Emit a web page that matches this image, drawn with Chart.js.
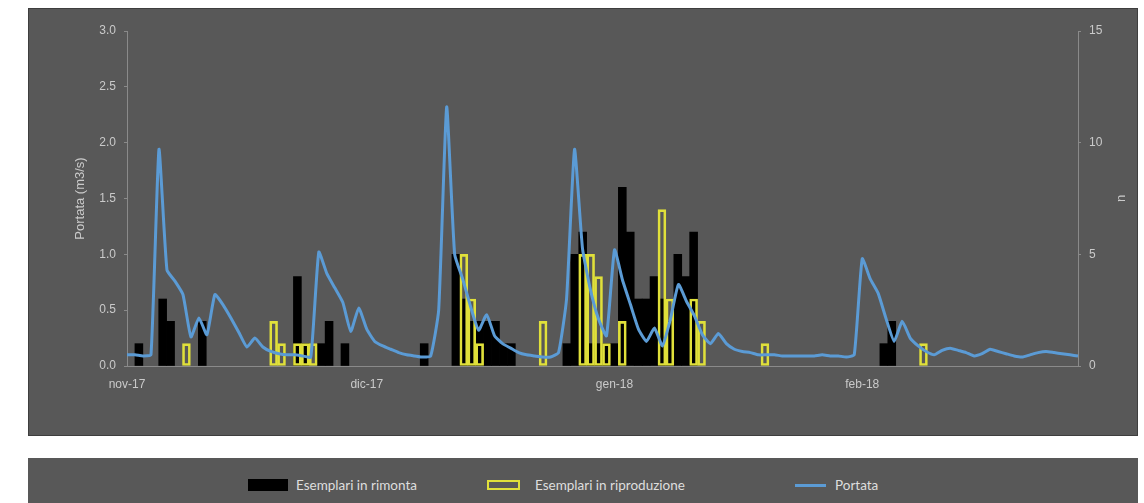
<!DOCTYPE html>
<html>
<head>
<meta charset="utf-8">
<script src="https://cdn.jsdelivr.net/npm/chart.js@4.4.1/dist/chart.umd.min.js"></script>
<style>
  html, body { margin: 0; padding: 0; background: #ffffff; width: 1144px; height: 503px; overflow: hidden; }
  #panel { position: absolute; left: 28px; top: 8px; width: 1110px; height: 428px; background: #585858; box-shadow: inset 0 0 0 1px #3e3e3e; }
  #panel canvas { position: absolute; left: 0; top: 0; }
  #legend { position: absolute; left: 28px; top: 458px; width: 1110px; height: 45px; background: #585858; }
  .key { position: absolute; box-sizing: border-box; }
  .lbl { position: absolute; top: 19px; font: 13.5px Lato, "Open Sans", sans-serif; line-height: 16px; color: #dedede; white-space: nowrap; }
</style>
</head>
<body>
<div id="panel"><canvas id="chart" width="1110" height="428"></canvas></div>
<div id="legend">
  <div class="key" style="left:220px;top:21px;width:40px;height:12px;background:#000;"></div>
  <div class="lbl" style="left:268px;">Esemplari in rimonta</div>
  <div class="key" style="left:459px;top:22px;width:33px;height:10px;border:2px solid #e0e03a;"></div>
  <div class="lbl" style="left:507px;">Esemplari in riproduzione</div>
  <div class="key" style="left:767px;top:26px;width:31px;height:3px;background:#5b9bd5;"></div>
  <div class="lbl" style="left:807px;">Portata</div>
</div>
<script>
// Daily river discharge (m3/s), 1 Nov 2017 - 28 Feb 2018
const portata = [
  0.10, 0.10, 0.09, 0.10, 1.94, 0.86, 0.76, 0.64, 0.26, 0.43,
  0.28, 0.64, 0.55, 0.43, 0.30, 0.17, 0.25, 0.17, 0.13, 0.11,
  0.10, 0.10, 0.09, 0.08, 1.02, 0.83, 0.70, 0.57, 0.31, 0.52,
  0.33, 0.22, 0.18, 0.15, 0.12, 0.10, 0.09, 0.08, 0.09, 0.50,
  2.32, 1.00, 0.78, 0.53, 0.32, 0.46, 0.27, 0.20, 0.16, 0.12,
  0.10, 0.09, 0.08, 0.08, 0.12, 0.60, 1.94, 1.05, 0.68, 0.42,
  0.27, 1.04, 0.77, 0.55, 0.33, 0.22, 0.34, 0.18, 0.42, 0.73,
  0.58, 0.45, 0.28, 0.20, 0.29, 0.20, 0.15, 0.13, 0.12, 0.10,
  0.10, 0.10, 0.09, 0.09, 0.09, 0.09, 0.09, 0.10, 0.09, 0.09,
  0.08, 0.10, 0.96, 0.78, 0.65, 0.42, 0.22, 0.40, 0.25, 0.18,
  0.13, 0.10, 0.14, 0.16, 0.14, 0.12, 0.09, 0.11, 0.15, 0.13,
  0.11, 0.09, 0.08, 0.10, 0.12, 0.13, 0.12, 0.11, 0.10, 0.09
];

// Daily counts of upstream-migrating fish
const rimonta = [
  null, 1, null, null, 3, 2, null, null, null, 2,
  null, null, null, null, null, null, null, null, null, null,
  null, 4, 1, null, 1, 2, null, 1, null, null,
  null, null, null, null, null, null, null, 1, null, null,
  null, 5, 3, 2, 2, 2, 2, 1, 1, null,
  null, null, null, null, null, 1, 5, 6, 1, 1,
  1, 1, 8, 6, 3, 3, 4, 3, 2, 5,
  4, 6, null, null, null, null, null, null, null, null,
  null, null, null, null, null, null, null, null, null, null,
  null, null, null, null, null, 1, 2, null, null, null,
  null, null, null, null, null, null, null, null, null, null,
  null, null, null, null, null, null, null, null, null, null
];

// Daily counts of spawning fish
const riproduzione = [
  null, null, null, null, null, null, null, 1, null, null,
  null, null, null, null, null, null, null, null, 2, 1,
  null, 1, 1, 1, null, null, null, null, null, null,
  null, null, null, null, null, null, null, null, null, null,
  null, null, 5, 3, 1, null, null, null, null, null,
  null, null, 2, null, null, null, null, 5, 5, 4,
  1, null, 2, null, null, null, null, 7, 3, null,
  null, 3, 2, null, null, null, null, null, null, null,
  1, null, null, null, null, null, null, null, null, null,
  null, null, null, null, null, null, null, null, null, null,
  1, null, null, null, null, null, null, null, null, null,
  null, null, null, null, null, null, null, null, null, null
];

// Month labels shown on the date axis
const monthTicks = {
  '2017-11-01': 'nov-17',
  '2017-12-01': 'dic-17',
  '2018-01-01': 'gen-18',
  '2018-02-01': 'feb-18'
};

// One category per day
const firstDay = Date.UTC(2017, 10, 1);
const days = portata.map((_, i) => new Date(firstDay + i * 86400000).toISOString().slice(0, 10));

const textColor = '#cacaca';
const axisColor = '#8a8a8a';
const fontFamily = '"Liberation Sans", Arial, sans-serif';
const tickFont = { family: fontFamily, size: 12 };

// Secondary axis title, written bottom-to-top like the primary one
const countAxisTitle = {
  id: 'countAxisTitle',
  afterDraw(chart) {
    const s = chart.scales.y1;
    const ctx = chart.ctx;
    ctx.save();
    ctx.translate(s.right - 17, (s.top + s.bottom) / 2);
    ctx.rotate(-Math.PI / 2);
    ctx.fillStyle = textColor;
    ctx.font = '13px ' + fontFamily;
    ctx.textAlign = 'center';
    ctx.textBaseline = 'middle';
    ctx.fillText('n', 0, 0);
    ctx.restore();
  }
};

new Chart(document.getElementById('chart'), {
  data: {
    labels: days,
    datasets: [
      {
        type: 'line', label: 'Portata', data: portata,
        xAxisID: 'x2', yAxisID: 'y',
        borderColor: '#5b9bd5', borderWidth: 3, pointRadius: 0,
        tension: 0.15, borderJoinStyle: 'round', order: 0
      },
      {
        type: 'bar', label: 'Esemplari in riproduzione', data: riproduzione,
        xAxisID: 'x', yAxisID: 'y1', grouped: false,
        backgroundColor: 'rgba(0,0,0,0)', borderColor: '#e0e03a', borderWidth: 2, borderSkipped: false,
        barPercentage: 1, categoryPercentage: 1, order: 1
      },
      {
        type: 'bar', label: 'Esemplari in rimonta', data: rimonta,
        xAxisID: 'x', yAxisID: 'y1', grouped: false,
        backgroundColor: '#000000', borderWidth: 0,
        barPercentage: 1, categoryPercentage: 1, order: 2
      }
    ]
  },
  options: {
    responsive: false,
    animation: false,
    devicePixelRatio: 1,
    layout: { padding: { top: 23, left: 0, right: 0, bottom: 0 } },
    plugins: { legend: { display: false }, tooltip: { enabled: false } },
    scales: {
      x: { type: 'category', offset: true, display: false },
      x2: {
        type: 'category', offset: false, position: 'bottom',
        grid: { display: false, drawTicks: false },
        border: { display: true, color: axisColor, width: 1 },
        ticks: {
          autoSkip: false, maxRotation: 0, minRotation: 0, padding: 11,
          color: textColor, font: tickFont,
          callback: (v, i) => monthTicks[days[i]] || ''
        },
        afterFit: s => { s.height = 70; }
      },
      y: {
        position: 'left', min: 0, max: 3,
        grid: { display: true, drawOnChartArea: false, tickLength: 3, color: axisColor },
        border: { display: true, color: axisColor, width: 1 },
        ticks: { stepSize: 0.5, padding: 8, color: textColor, font: tickFont, callback: v => v.toFixed(1) },
        title: { display: true, text: 'Portata (m3/s)', color: textColor, font: { family: fontFamily, size: 13 }, padding: { top: 45, bottom: 0 } },
        afterFit: s => { s.width = 99; }
      },
      y1: {
        position: 'right', min: 0, max: 15,
        grid: { display: true, drawOnChartArea: false, tickLength: 3, color: axisColor },
        border: { display: true, color: axisColor, width: 1 },
        ticks: { stepSize: 5, padding: 8, color: textColor, font: tickFont },
        afterFit: s => { s.width = 60; }
      }
    }
  },
  plugins: [countAxisTitle]
});
</script>
</body>
</html>
